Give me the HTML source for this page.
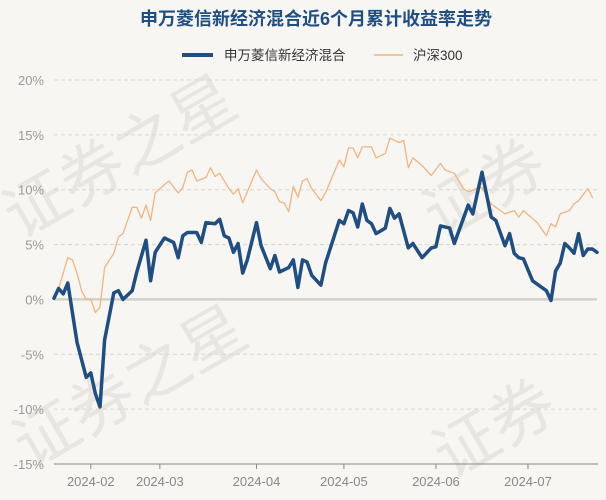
<!DOCTYPE html>
<html><head><meta charset="utf-8"><style>
html,body{margin:0;padding:0;background:#f8f6f2;}
svg{display:block;font-family:"Liberation Sans","Noto Sans CJK SC",sans-serif;}
</style></head><body>
<svg id="chart" width="606" height="500">
  <rect width="606" height="500" fill="#f8f6f2"/>
  <g fill="#e9e6e1" font-size="64">
    <text transform="translate(20,240) rotate(-30)">证券之星</text>
    <text transform="translate(30,470) rotate(-30)">证券之星</text>
    <text transform="translate(440,240) rotate(-30)">证券</text>
    <text transform="translate(450,480) rotate(-30)">证券</text>
  </g>
  <text x="316" y="25" text-anchor="middle" font-size="18" font-weight="bold" fill="#1f4e82">申万菱信新经济混合近6个月累计收益率走势</text>
  <g>
    <g>
      <line x1="182" y1="55" x2="213" y2="55" stroke="#1f4e82" stroke-width="4"/>
      <text x="224" y="60" font-size="13.5" fill="#333">申万菱信新经济混合</text>
    </g>
    <g>
      <line x1="374" y1="55" x2="403" y2="55" stroke="#f0b47f" stroke-width="1.5"/>
      <text x="413" y="60" font-size="13.5" fill="#333">沪深300</text>
    </g>
  </g>
  <g id="grid"></g>
  <g id="series"></g>
  <g id="xaxis"></g>
</svg>
<script>
const yTicks = [20, 15, 10, 5, 0, -5, -10, -15];
const xLabels = ["2024-02", "2024-03", "2024-04", "2024-05", "2024-06", "2024-07"];
const xLabelIdx = [8, 23, 44, 63, 83, 103];
const fundIdx = [0,1,2,3,5,7,8,9,10,11,13,14,15,17,18,20,21,22,24,26,27,28,29,31,32,33,35,36,37,38,39,40,41,42,44,45,47,48,49,51,52,53,54,55,56,58,59,62,63,64,65,66,67,68,69,70,72,73,74,75,77,78,80,82,83,84,86,87,90,91,93,95,96,98,99,100,101,102,104,106,107,108,109,110,111,112,113,114,115,116,117,118];
const fundVals = [0.1,1.0,0.5,1.5,-3.9,-7.1,-6.7,-8.6,-9.8,-3.7,0.6,0.8,0.0,0.8,2.5,5.4,1.7,4.3,5.6,5.2,3.8,5.8,6.1,6.1,5.2,7.0,6.9,7.3,5.8,5.6,4.3,5.1,2.4,3.6,7.0,4.9,2.8,4.0,2.5,2.9,3.6,1.1,3.6,3.4,2.2,1.3,3.3,7.2,6.9,8.1,7.9,6.6,8.7,7.2,6.9,6.0,6.5,8.3,7.4,7.8,4.7,5.1,3.8,4.7,4.8,6.7,6.5,5.1,8.6,7.8,11.6,7.5,7.2,4.9,6.0,4.2,3.8,3.7,1.7,1.1,0.8,-0.1,2.6,3.3,5.1,4.7,4.2,6.0,4.0,4.6,4.6,4.3];
const hsIdx = [0,1,3,4,5,6,7,8,9,10,11,13,14,15,17,18,19,20,21,22,23,25,27,28,29,30,31,33,34,35,36,38,39,40,41,42,44,45,47,48,49,50,51,52,53,54,55,56,58,59,60,62,63,64,65,66,67,69,70,72,73,75,76,77,78,80,82,84,85,87,89,90,92,93,95,98,100,101,102,105,107,108,109,110,112,113,114,116,117];
const hsVals = [0.1,1.0,3.8,3.6,2.4,0.8,0,0,-1.2,-0.7,2.9,4.2,5.7,6.0,8.4,8.4,7.4,8.6,7.2,9.7,10.1,10.8,9.7,10.2,11.6,11.8,10.8,11.1,12.0,11.2,11.5,10.1,9.6,10.1,8.8,9.8,11.8,11.0,10.1,9.8,8.9,8.8,8.0,10.3,9.3,10.8,11.0,10.1,9.0,9.7,10.7,12.7,12.1,13.8,13.8,12.9,13.9,13.9,12.9,13.3,14.7,14.3,14.5,12.0,12.9,12.2,11.3,12.4,11.8,11.5,10.1,9.8,10.1,10.2,8.7,7.8,8.1,7.5,8.1,7.0,5.8,6.9,6.6,7.8,8.1,8.7,9.0,10.1,9.3];

const NS = "http://www.w3.org/2000/svg";
const X0 = 54, X1 = 597, NDAYS = 118;
const Y20 = 80, Ym15 = 464;
function xs(i){ return X0 + i * (X1 - X0) / NDAYS; }
function ys(v){ return Y20 + (20 - v) * (Ym15 - Y20) / 35; }
function mk(tag, attrs, parent){
  const e = document.createElementNS(NS, tag);
  for (const k in attrs) e.setAttribute(k, attrs[k]);
  parent.appendChild(e);
  return e;
}
const grid = document.getElementById('grid');
yTicks.forEach(t => {
  const y = ys(t);
  if (t === 0) {
    const l = mk('line', {x1: X0, x2: X1, y1: y, y2: y, stroke: '#d4d0cc', 'stroke-width': 2.5}, grid);
    
    
  } else if (t !== -15) {
    const l = mk('line', {x1: X0, x2: X1, y1: y, y2: y, stroke: '#d8d5d0', 'stroke-width': 1, 'stroke-dasharray': '4,3'}, grid);
    
    
  }
  const tx = mk('text', {x: 44, y: y + 5, 'text-anchor': 'end', 'font-size': 13, fill: '#999'}, grid);
  tx.textContent = t + '%';
  
  
});
const xa = document.getElementById('xaxis');
const axl = mk('line', {x1: X0, x2: X1 + 1, y1: Ym15, y2: Ym15, stroke: '#888', 'stroke-width': 1}, xa);


xLabels.forEach((lab, k) => {
  const x = xs(xLabelIdx[k]);
  const tk = mk('line', {x1: x, x2: x, y1: Ym15, y2: Ym15 + 5, stroke: '#888'}, xa);
  
  
  const t = mk('text', {x: x, y: 486, 'text-anchor': 'middle', 'font-size': 13, fill: '#888'}, xa);
  t.textContent = lab;
  
  
});
const sg = document.getElementById('series');
function line(idx, vals, color, w, name){
  const pts = idx.map((d, k) => xs(d).toFixed(1) + ',' + ys(vals[k]).toFixed(1)).join(' ');
  const p = mk('polyline', {points: pts, fill: 'none', stroke: color, 'stroke-width': w, 'stroke-linejoin': 'round', 'stroke-linecap': 'round'}, sg);
  
  
}
line(hsIdx, hsVals, '#f0b47f', 1.3, 'hs300-line');
line(fundIdx, fundVals, '#1f4e82', 3.5, 'fund-line');
</script>
</body></html>
